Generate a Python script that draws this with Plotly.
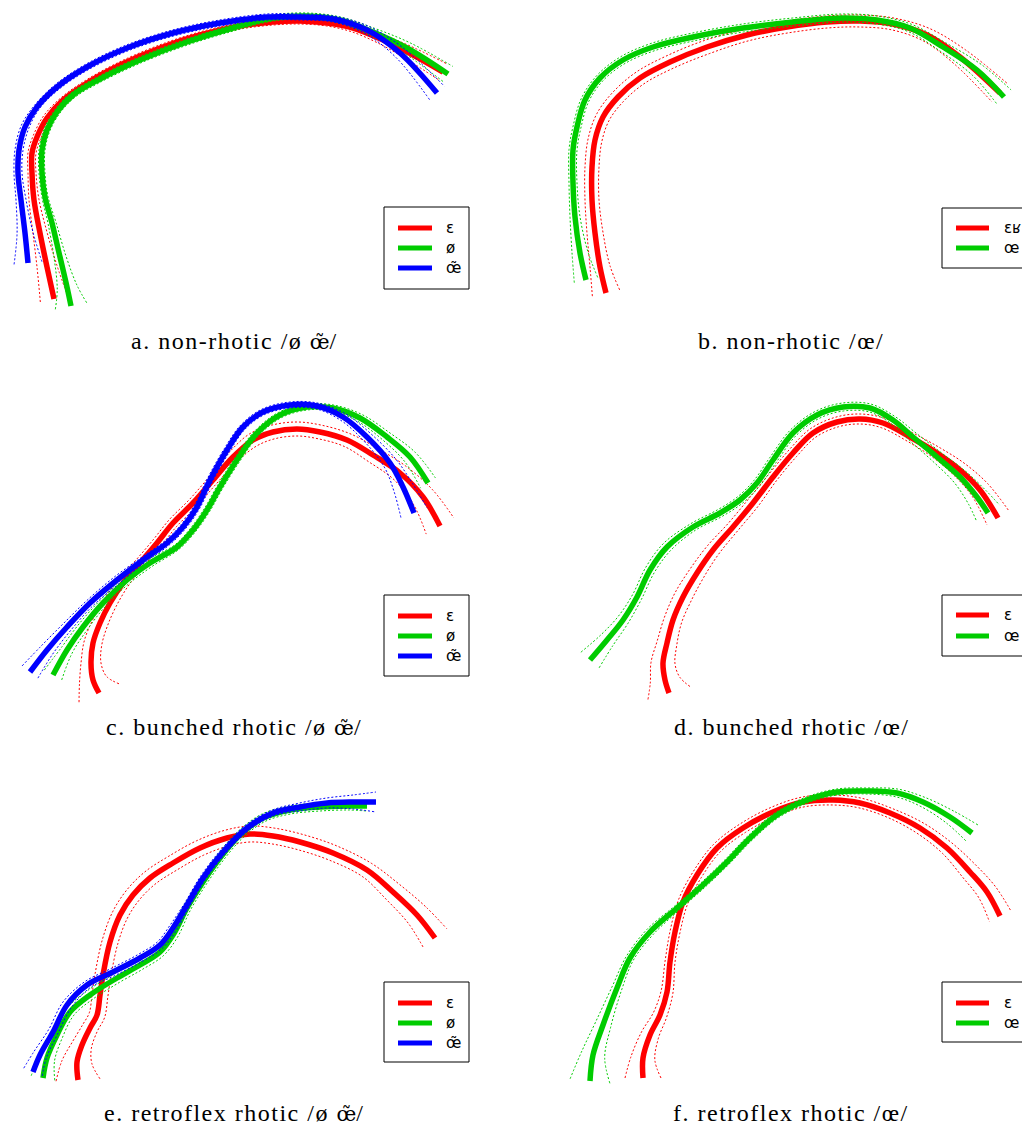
import numpy as np
import plotly.graph_objects as go

W, H = 1022, 1130
RED, GREEN, BLUE = "#ff0000", "#00cc00", "#0000ff"

# ---------------- data (contour coordinates, image units; y grows downward) ----------------
# panel a: non-rhotic /ø œ̃/
a_eps_x = [54, 47, 40, 34, 32, 32, 37, 47, 63, 87, 120, 160, 200, 240, 273, 300, 327, 353, 383, 413, 443]
a_eps_y = [299, 267, 233, 200, 173, 153, 137, 118, 100, 83, 65, 48, 35, 26, 22, 21, 23, 28, 40, 55, 72]
a_eps_ci = [14, 10, 7, 5, 4, 4, 4, 4, 3, 3, 3, 3, 3, 3, 3, 3, 3, 4, 5, 7, 9]
a_oe_x = [71, 67, 60, 52, 45, 42, 42, 47, 57, 73, 100, 140, 187, 233, 273, 307, 340, 373, 407, 448]
a_oe_y = [306, 287, 257, 223, 197, 173, 150, 130, 112, 95, 79, 60, 42, 28, 18, 16, 20, 32, 48, 74]
a_oe_ci = [16, 10, 6, 4, 3, 3, 3, 3, 3, 3, 3, 3, 3, 3, 3, 3, 3, 4, 6, 9]
a_nas_x = [28, 25, 21, 18, 19, 25, 37, 57, 87, 127, 173, 220, 267, 300, 333, 367, 400, 437]
a_nas_y = [263, 233, 200, 173, 150, 127, 107, 87, 67, 48, 33, 23, 17, 17, 19, 30, 53, 93]
a_nas_ci = [14, 8, 5, 4, 4, 4, 3, 3, 3, 3, 3, 3, 3, 3, 3, 4, 6, 10]

# panel b: non-rhotic /œ/
b_eps_x = [606, 600, 595, 592, 592, 595, 603, 618, 640, 670, 707, 747, 787, 827, 860, 893, 927, 960, 1000]
b_eps_y = [293, 267, 233, 200, 167, 140, 117, 97, 78, 62, 47, 35, 27, 22, 21, 24, 35, 57, 93]
b_eps_ci = [14, 10, 8, 7, 7, 7, 7, 7, 7, 7, 7, 6, 6, 6, 6, 6, 7, 9, 12]
b_oe_x = [586, 580, 575, 573, 573, 577, 585, 600, 623, 653, 693, 743, 793, 843, 877, 910, 943, 977, 1004]
b_oe_y = [280, 253, 217, 183, 150, 127, 100, 78, 60, 47, 37, 28, 22, 18, 20, 28, 47, 70, 97]
b_oe_ci = [12, 8, 5, 4, 4, 4, 4, 4, 4, 4, 4, 4, 4, 4, 4, 4, 5, 7, 10]

# panel c: bunched rhotic /ø œ̃/
c_eps_x = [99, 93, 91, 93, 100, 110, 123, 140, 157, 173, 193, 213, 233, 253, 273, 297, 320, 347, 373, 400, 423, 440]
c_eps_y = [693, 680, 663, 643, 623, 603, 583, 563, 543, 523, 503, 480, 457, 440, 432, 429, 432, 440, 455, 473, 497, 526]
c_eps_ci = [22, 14, 10, 9, 8, 7, 6, 5, 5, 5, 5, 5, 6, 7, 7, 7, 7, 7, 8, 9, 12, 16]
c_oe_x = [53, 67, 83, 103, 127, 150, 177, 193, 207, 220, 237, 257, 280, 307, 333, 360, 387, 410, 428]
c_oe_y = [675, 650, 627, 603, 580, 563, 547, 530, 510, 487, 460, 433, 415, 407, 408, 418, 437, 457, 483]
c_oe_ci = [10, 6, 5, 4, 4, 4, 3, 3, 3, 3, 3, 3, 3, 3, 3, 4, 5, 7, 9]
c_nas_x = [30, 47, 67, 90, 117, 143, 167, 183, 197, 210, 227, 243, 263, 290, 317, 343, 367, 390, 403, 414]
c_nas_y = [672, 650, 627, 603, 580, 560, 543, 527, 507, 480, 450, 427, 412, 405, 406, 417, 437, 463, 487, 513]
c_nas_ci = [10, 7, 5, 4, 4, 3, 3, 3, 3, 3, 3, 3, 3, 3, 3, 4, 5, 7, 10, 14]

# panel d: bunched rhotic /œ/
d_eps_x = [669, 665, 663, 667, 673, 683, 697, 713, 733, 753, 773, 793, 813, 837, 860, 883, 910, 937, 960, 980, 998]
d_eps_y = [693, 680, 663, 643, 620, 597, 573, 550, 527, 503, 477, 453, 433, 422, 419, 423, 437, 453, 470, 490, 518]
d_eps_ci = [22, 15, 12, 10, 9, 9, 8, 7, 6, 6, 5, 5, 5, 5, 5, 5, 5, 6, 8, 10, 13]
d_oe_x = [590, 607, 623, 637, 650, 667, 693, 720, 740, 757, 773, 793, 817, 843, 870, 893, 913, 937, 960, 977, 988]
d_oe_y = [660, 640, 620, 597, 570, 547, 527, 513, 500, 483, 460, 433, 415, 407, 408, 420, 437, 457, 477, 497, 513]
d_oe_ci = [12, 8, 6, 5, 5, 5, 4, 4, 4, 4, 4, 4, 4, 4, 4, 4, 5, 6, 8, 11, 14]

# panel e: retroflex rhotic /ø œ̃/
e_eps_x = [78, 77, 82, 90, 97, 100, 103, 110, 120, 133, 150, 173, 200, 227, 250, 273, 300, 333, 367, 393, 417, 435]
e_eps_y = [1080, 1062, 1045, 1028, 1015, 995, 975, 942, 915, 895, 878, 863, 848, 838, 834, 836, 842, 853, 870, 892, 915, 938]
e_eps_ci = [22, 15, 10, 8, 8, 8, 8, 8, 8, 8, 8, 8, 8, 8, 8, 8, 8, 8, 8, 10, 12, 15]
e_oe_x = [43, 47, 57, 70, 90, 117, 140, 160, 173, 187, 203, 220, 240, 263, 290, 320, 347, 367]
e_oe_y = [1078, 1058, 1035, 1012, 995, 978, 965, 952, 935, 908, 882, 858, 835, 818, 810, 807, 806, 806]
e_oe_ci = [12, 8, 6, 5, 5, 5, 5, 5, 5, 4, 4, 4, 4, 4, 4, 4, 4, 5]
e_nas_x = [33, 40, 53, 67, 87, 113, 140, 160, 173, 187, 203, 223, 247, 273, 300, 327, 353, 376]
e_nas_y = [1072, 1055, 1032, 1005, 985, 972, 958, 945, 928, 905, 878, 852, 828, 813, 807, 803, 802, 802]
e_nas_ci = [10, 7, 5, 5, 4, 4, 4, 4, 4, 3, 3, 3, 3, 3, 4, 5, 7, 10]

# panel f: retroflex rhotic /œ/
f_eps_x = [643, 643, 650, 660, 667, 670, 675, 683, 697, 717, 743, 773, 803, 833, 860, 890, 920, 947, 970, 987, 1000]
f_eps_y = [1078, 1058, 1035, 1015, 992, 962, 932, 902, 875, 848, 828, 812, 802, 800, 803, 813, 828, 848, 872, 892, 916]
f_eps_ci = [18, 12, 9, 7, 6, 5, 5, 5, 5, 5, 5, 5, 5, 5, 5, 5, 6, 7, 9, 10, 12]
f_oe_x = [590, 593, 603, 617, 630, 650, 677, 703, 727, 750, 777, 807, 837, 867, 897, 923, 950, 972]
f_oe_y = [1081, 1055, 1025, 988, 958, 932, 908, 885, 862, 838, 815, 800, 792, 791, 793, 802, 817, 833]
f_oe_ci = [20, 12, 8, 5, 4, 4, 3, 3, 3, 3, 3, 3, 3, 3, 4, 5, 7, 10]

# labels
labels_3 = ["ɛ", "ø", "œ̃"]
labels_b = ["ɛʁ", "œ"]
labels_2 = ["ɛ", "œ"]
captions = [
    "a. non-rhotic /ø œ̃/", "b. non-rhotic /œ/",
    "c. bunched rhotic /ø œ̃/", "d. bunched rhotic /œ/",
    "e. retroflex rhotic /ø œ̃/", "f. retroflex rhotic /œ/",
]

# ---------------- layout geometry (pixels) ----------------
cols = [(0, 500), (540, W)]
rows = [(0, 318), (385, 705), (770, 1090)]
cap_y = [341, 727, 1113]
cap_x = [234, 791]

panels = [
    dict(series=[(a_eps_x, a_eps_y, a_eps_ci, RED), (a_oe_x, a_oe_y, a_oe_ci, GREEN), (a_nas_x, a_nas_y, a_nas_ci, BLUE)],
         labels=labels_3, col=0, row=0, box=(384, 207, 469, 289), lx=(398, 432), ly=[228, 248, 268], tx=444),
    dict(series=[(b_eps_x, b_eps_y, b_eps_ci, RED), (b_oe_x, b_oe_y, b_oe_ci, GREEN)],
         labels=labels_b, col=1, row=0, box=(942, 208, 1060, 268), lx=(956, 989), ly=[228, 248], tx=1002),
    dict(series=[(c_eps_x, c_eps_y, c_eps_ci, RED), (c_oe_x, c_oe_y, c_oe_ci, GREEN), (c_nas_x, c_nas_y, c_nas_ci, BLUE)],
         labels=labels_3, col=0, row=1, box=(384, 595, 469, 676), lx=(398, 432), ly=[616, 636, 656], tx=444),
    dict(series=[(d_eps_x, d_eps_y, d_eps_ci, RED), (d_oe_x, d_oe_y, d_oe_ci, GREEN)],
         labels=labels_2, col=1, row=1, box=(942, 595, 1060, 656), lx=(956, 989), ly=[615, 636], tx=1002),
    dict(series=[(e_eps_x, e_eps_y, e_eps_ci, RED), (e_oe_x, e_oe_y, e_oe_ci, GREEN), (e_nas_x, e_nas_y, e_nas_ci, BLUE)],
         labels=labels_3, col=0, row=2, box=(384, 982, 469, 1062), lx=(398, 432), ly=[1003, 1023, 1043], tx=444),
    dict(series=[(f_eps_x, f_eps_y, f_eps_ci, RED), (f_oe_x, f_oe_y, f_oe_ci, GREEN)],
         labels=labels_2, col=1, row=2, box=(942, 982, 1060, 1042), lx=(956, 989), ly=[1003, 1023], tx=1002),
]


def band(x, y, hw):
    x = np.asarray(x, float)
    y = np.asarray(y, float)
    hw = np.asarray(hw, float)
    dx = np.gradient(x)
    dy = np.gradient(y)
    n = np.hypot(dx, dy)
    nx, ny = -dy / n, dx / n
    return (x + nx * hw, y + ny * hw), (x - nx * hw, y - ny * hw)


def caption_html(text):
    # keep the nasal vowel cluster in a font that has the combining tilde
    ls = "letter-spacing:1.5px"
    nas = "œ̃"
    if nas in text:
        pre, post = text.split(nas)
        return (f'<span style="{ls}">{pre}</span>'
                f'<span style="font-family:\'DejaVu Serif\';font-size:20px">{nas}</span>'
                f'<span style="{ls}">{post}</span>')
    return f'<span style="{ls}">{text}</span>'


fig = go.Figure()
layout = dict(
    width=W, height=H, margin=dict(l=0, r=0, t=0, b=0, autoexpand=False),
    paper_bgcolor="white", plot_bgcolor="white", showlegend=False,
    shapes=[], annotations=[],
)

for i, p in enumerate(panels):
    k = "" if i == 0 else str(i + 1)
    xa, ya = "x" + k, "y" + k
    x0, x1 = cols[p["col"]]
    y0, y1 = rows[p["row"]]
    layout["xaxis" + k] = dict(domain=[x0 / W, x1 / W], range=[x0, x1], visible=False,
                               fixedrange=True, anchor=ya)
    layout["yaxis" + k] = dict(domain=[1 - y1 / H, 1 - y0 / H], range=[y1, y0], visible=False,
                               fixedrange=True, anchor=xa)
    for (sx, sy, ci, color) in p["series"]:
        (ux, uy), (lx_, ly_) = band(sx, sy, ci)
        for bx, by in ((ux, uy), (lx_, ly_)):
            fig.add_trace(go.Scatter(x=bx, y=by, mode="lines", xaxis=xa, yaxis=ya,
                                     line=dict(color=color, width=1, dash="2px,2px", shape="spline", smoothing=1),
                                     hoverinfo="skip"))
        fig.add_trace(go.Scatter(x=sx, y=sy, mode="lines", xaxis=xa, yaxis=ya,
                                 line=dict(color=color, width=5.5, shape="spline", smoothing=1),
                                 hoverinfo="skip"))
    # legend box
    bx0, by0, bx1, by1 = p["box"]
    layout["shapes"].append(dict(type="rect", xref=xa, yref=ya, x0=bx0, x1=bx1, y0=by0, y1=by1,
                                 line=dict(color="black", width=1), fillcolor="white", layer="above"))
    for j, lab in enumerate(p["labels"]):
        color = p["series"][j][3]
        layout["shapes"].append(dict(type="line", xref=xa, yref=ya, x0=p["lx"][0], x1=p["lx"][1],
                                     y0=p["ly"][j], y1=p["ly"][j], line=dict(color=color, width=5),
                                     layer="above"))
        layout["annotations"].append(dict(xref=xa, yref=ya, x=p["tx"], y=p["ly"][j], text=lab,
                                          showarrow=False, xanchor="left", yanchor="middle",
                                          font=dict(family="DejaVu Sans", size=15, color="black")))
    # caption
    layout["annotations"].append(dict(xref="paper", yref="paper", x=cap_x[p["col"]] / W,
                                      y=1 - cap_y[p["row"]] / H, text=caption_html(captions[i]),
                                      showarrow=False, xanchor="center", yanchor="middle",
                                      font=dict(family="Liberation Serif", size=24, color="black")))

fig.update_layout(**layout)
fig.write_html("out.html")
